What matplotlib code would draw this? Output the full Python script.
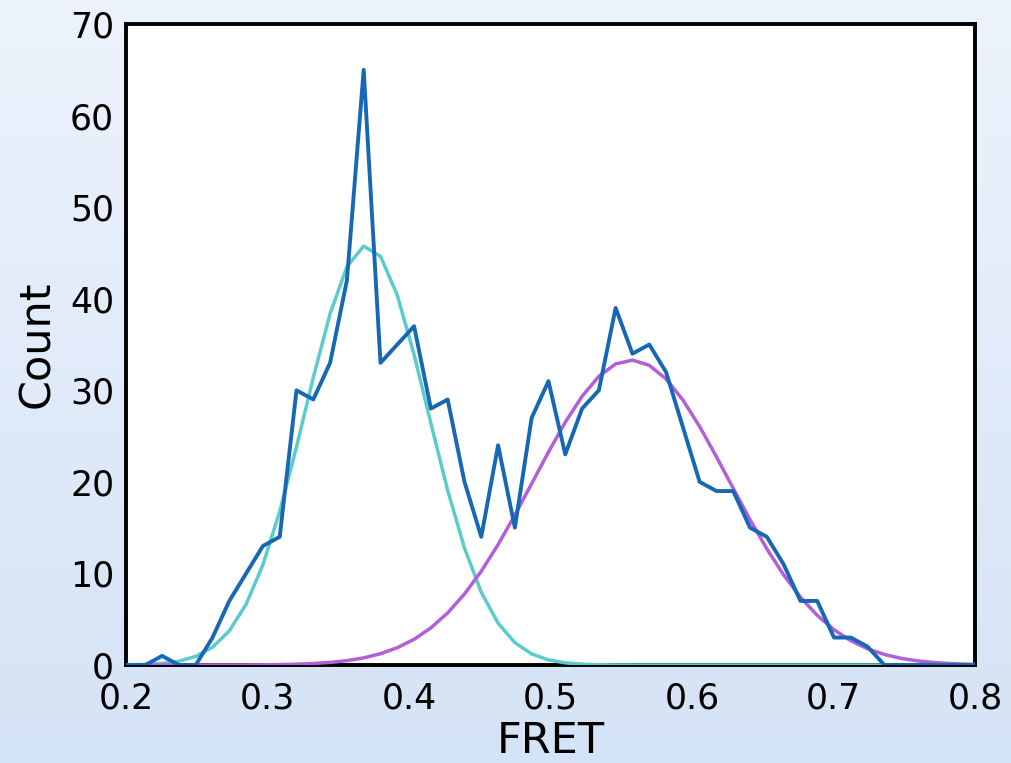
import numpy as np
import matplotlib
matplotlib.use("Agg")
import matplotlib.pyplot as plt
from matplotlib.colors import LinearSegmentedColormap

# Histogram bin centres (FRET) and counts
bin_width = 0.01187
bin_index = np.arange(16, 69)
counts = [0, 0, 0, 1, 0, 0, 3, 7, 10, 13, 14, 30, 29, 33, 42, 65,
          33, 35, 37, 28, 29, 20, 14, 24, 15, 27, 31, 23, 28, 30, 39, 34,
          35, 32, 26, 20, 19, 19, 15, 14, 11, 7, 7, 3, 3, 2, 0,
          0, 0, 0, 0, 0, 0]

# Gaussian fit parameters: (amplitude, centre, width)
low_fret_fit = (45.8, 0.370, 0.0433)
high_fret_fit = (33.3, 0.557, 0.069)

x_ticks = [0.2, 0.3, 0.4, 0.5, 0.6, 0.7, 0.8]
y_ticks = [0, 10, 20, 30, 40, 50, 60, 70]

fret = bin_index * bin_width


def gaussian(x, amp, mu, sigma):
    return amp * np.exp(-(x - mu) ** 2 / (2 * sigma ** 2))


fig = plt.figure(figsize=(10.12, 7.63), dpi=100)

# soft blue gradient behind the axes
bg = fig.add_axes([0, 0, 1, 1], zorder=-10)
grad = np.linspace(0, 1, 256).reshape(-1, 1)
cmap = LinearSegmentedColormap.from_list("bg", ["#ecf3fc", "#d5e3f6"])
bg.imshow(grad, aspect="auto", cmap=cmap, extent=[0, 1, 0, 1], origin="upper")
bg.set_axis_off()

ax = fig.add_axes([0.1245, 0.1284, 0.839, 0.8401])
ax.set_facecolor("white")

ax.plot(fret, gaussian(fret, *low_fret_fit), color="#5ccbcb", lw=2.5, zorder=3)
ax.plot(fret, gaussian(fret, *high_fret_fit), color="#b35fd8", lw=2.5, zorder=3)
ax.plot(fret, counts, color="#1668b4", lw=2.8, zorder=4)

ax.set_xlim(0.2, 0.8)
ax.set_ylim(0, 70)
ax.set_xticks(x_ticks)
ax.set_yticks(y_ticks)
ax.set_xticklabels([f"{t:.1f}" for t in x_ticks])
ax.tick_params(length=0, labelsize=25, colors="black")
ax.tick_params(axis="x", pad=12)
ax.tick_params(axis="y", pad=8.5)
for s in ax.spines.values():
    s.set_linewidth(2.8)
    s.set_color("black")

ax.set_xlabel("FRET", fontsize=31, labelpad=3)
ax.set_ylabel("Count", fontsize=31, labelpad=8.5)

fig.savefig("out.png", dpi=100)
